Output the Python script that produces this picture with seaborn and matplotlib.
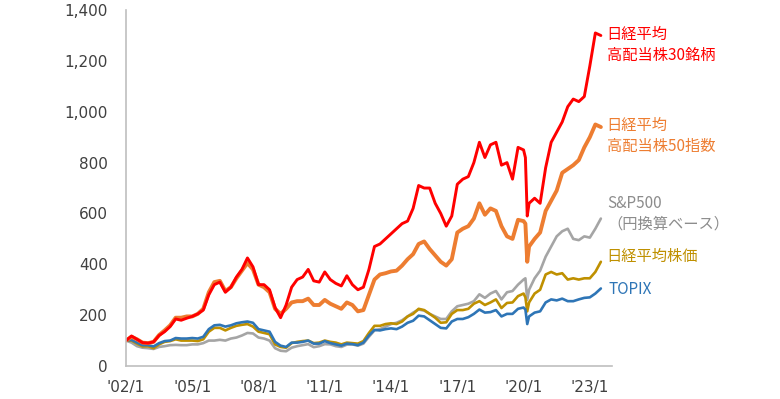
import matplotlib
matplotlib.use("Agg")
import matplotlib.pyplot as plt
import seaborn as sns
import pandas as pd
import numpy as np

# ---- data (index, 2002/1 = 100) ----
dates = ["2002-01","2002-04","2002-07","2002-10",
         "2003-01","2003-04","2003-07","2003-10",
         "2004-01","2004-04","2004-07","2004-10",
         "2005-01","2005-04","2005-07","2005-10",
         "2006-01","2006-04","2006-07","2006-10",
         "2007-01","2007-04","2007-07","2007-10",
         "2008-01","2008-04","2008-07","2008-10",
         "2009-01","2009-04","2009-07","2009-10",
         "2010-01","2010-04","2010-07","2010-10",
         "2011-01","2011-04","2011-07","2011-10",
         "2012-01","2012-04","2012-07","2012-10",
         "2013-01","2013-04","2013-07","2013-10",
         "2014-01","2014-04","2014-07","2014-10",
         "2015-01","2015-04","2015-07","2015-10",
         "2016-01","2016-04","2016-07","2016-10",
         "2017-01","2017-04","2017-07","2017-10",
         "2018-01","2018-04","2018-07","2018-10",
         "2019-01","2019-04","2019-07","2019-10",
         "2020-01","2020-02","2020-03","2020-04","2020-07","2020-10",
         "2021-01","2021-04","2021-07","2021-10",
         "2022-01","2022-04","2022-07","2022-10",
         "2023-01","2023-04","2023-07"]

high30 = [100,118,105,92, 90,95,120,135, 155,185,180,188, 195,205,220,280,
          320,330,290,310, 350,380,425,390, 320,320,300,230, 190,240,310,340,
          350,380,335,330, 370,340,325,315, 355,320,300,310, 380,470,480,500,
          520,540,560,570, 620,710,700,700, 640,600,550,590, 715,735,745,800,
          880,820,870,880, 790,800,735,860, 850,820,590,640,660,640,
          780,880,920,960, 1020,1050,1040,1060, 1180,1310,1300]

high50 = [100,115,105,92, 90,95,122,140, 160,190,190,195, 195,205,225,290,
          330,335,295,310, 345,375,405,380, 320,310,290,225, 205,225,250,255,
          255,265,240,240, 260,245,235,225, 250,240,215,220, 280,340,360,365,
          372,375,395,420, 440,480,490,460, 435,410,395,420, 525,540,550,580,
          640,595,620,610, 550,510,500,575, 570,560,410,470,500,525,
          610,650,690,760, 775,790,810,860, 900,950,940]

sp500 = [100,92,78,72, 70,67,75,78, 82,83,82,82, 85,85,90,100,
         100,103,100,108, 112,120,130,128, 112,108,100,70, 60,58,72,78,
         82,86,74,78, 86,85,78,75, 84,85,80,88, 115,140,145,155,
         165,170,180,195, 210,222,218,205, 195,185,185,215, 235,240,245,255,
         282,268,285,295, 262,290,295,320, 340,345,260,300,345,375,
         430,470,510,530, 540,500,495,510, 505,540,580]

nikkei = [100,100,88,77, 78,70,85,95, 98,105,100,100, 100,98,105,135,
          150,150,140,150, 158,162,165,155, 135,130,125,85, 75,72,90,95,
          98,100,90,92, 100,95,92,85, 92,90,88,98, 130,158,158,165,
          168,165,175,195, 205,225,220,205, 190,170,172,205, 220,220,225,245,
          255,240,250,262, 228,248,250,275, 285,270,215,250,285,300,
          360,370,360,365, 340,345,340,345, 345,370,410]

topix = [100,103,92,82, 82,77,90,98, 100,110,108,108, 110,108,115,145,
         160,162,155,160, 168,172,175,170, 145,140,135,95, 80,75,92,92,
         95,100,88,88, 98,90,85,80, 88,86,82,92, 120,142,140,145,
         148,145,155,170, 178,198,195,180, 165,150,148,175, 185,185,192,205,
         222,210,212,220, 195,205,205,225, 230,222,165,195,210,215,
         250,262,258,265, 255,255,262,268, 270,285,305]

series_names = ["S&P500", "日経平均株価", "TOPIX", "日経平均高配当株50指数", "日経平均高配当株30銘柄"]
series_values = [sp500, nikkei, topix, high50, high30]
colors = ["#A5A5A5", "#BF9000", "#2E75B6", "#ED7D31", "#FF0000"]
widths = [1.9, 1.9, 1.9, 2.8, 2.1]

tick_years = [2002, 2005, 2008, 2011, 2014, 2017, 2020, 2023]
tick_labels = ["'02/1", "'05/1", "'08/1", "'11/1", "'14/1", "'17/1", "'20/1", "'23/1"]
y_ticks = [0, 200, 400, 600, 800, 1000, 1200, 1400]

# ---- build frame ----
t = [int(d[:4]) + (int(d[5:7]) - 1) / 12 for d in dates]
rows = []
for name, vals in zip(series_names, series_values):
    for ti, v in zip(t, vals):
        rows.append({"t": ti, "value": v, "series": name})
df = pd.DataFrame(rows)

sns.set_theme(style="white")
plt.rcParams['font.family'] = ['DejaVu Sans', 'Noto Sans CJK JP']
plt.rcParams['font.sans-serif'] = ['DejaVu Sans']

fig = plt.figure(figsize=(7.8, 3.99), dpi=100)
ax = fig.add_axes([0.1615, 0.0827, 0.623, 0.892])

for name, c, lw in zip(series_names, colors, widths):
    sns.lineplot(data=df[df["series"] == name], x="t", y="value", color=c,
                 linewidth=lw, ax=ax, legend=False)

ax.set_xlim(2002, 2024.0)
ax.set_ylim(0, 1400)
ax.set_xticks(tick_years)
ax.set_xticklabels(tick_labels)
ax.set_yticks(y_ticks)
ax.set_yticklabels([f"{v:,}" for v in y_ticks])
ax.set_xlabel("")
ax.set_ylabel("")
ax.tick_params(axis="y", length=0, labelsize=11, colors="#404040", pad=13)
ax.tick_params(axis="x", length=0, labelsize=11, colors="#404040", pad=10)
for lbl in ax.get_xticklabels() + ax.get_yticklabels():
    lbl.set_fontfamily("DejaVu Sans")
for s in ["top", "right"]:
    ax.spines[s].set_visible(False)
for s in ["left", "bottom"]:
    ax.spines[s].set_color("#BFBFBF")
    ax.spines[s].set_linewidth(1.2)

jp = ['Noto Sans CJK JP', 'DejaVu Sans']
lx = 2023.76
ax.text(lx, 1262, "日経平均\n高配当株30銘柄", color="#FF0000", fontsize=11, va="center",
        ha="left", family=jp, linespacing=1.3, clip_on=False)
ax.text(lx, 906, "日経平均\n高配当株50指数", color="#ED7D31", fontsize=11, va="center",
        ha="left", family=jp, linespacing=1.3, clip_on=False)
ax.text(lx + 0.05, 598, "S&P500\n（円換算ベース）", color="#8C8C8C", fontsize=11, va="center",
        ha="left", family=jp, linespacing=1.3, clip_on=False)
ax.text(lx, 432, "日経平均株価", color="#BF9000", fontsize=11, va="center",
        ha="left", family=jp, clip_on=False)
ax.text(lx + 0.1, 299, "TOPIX", color="#2E75B6", fontsize=11, va="center",
        ha="left", family=jp, clip_on=False)

fig.savefig("out.png", dpi=100)
